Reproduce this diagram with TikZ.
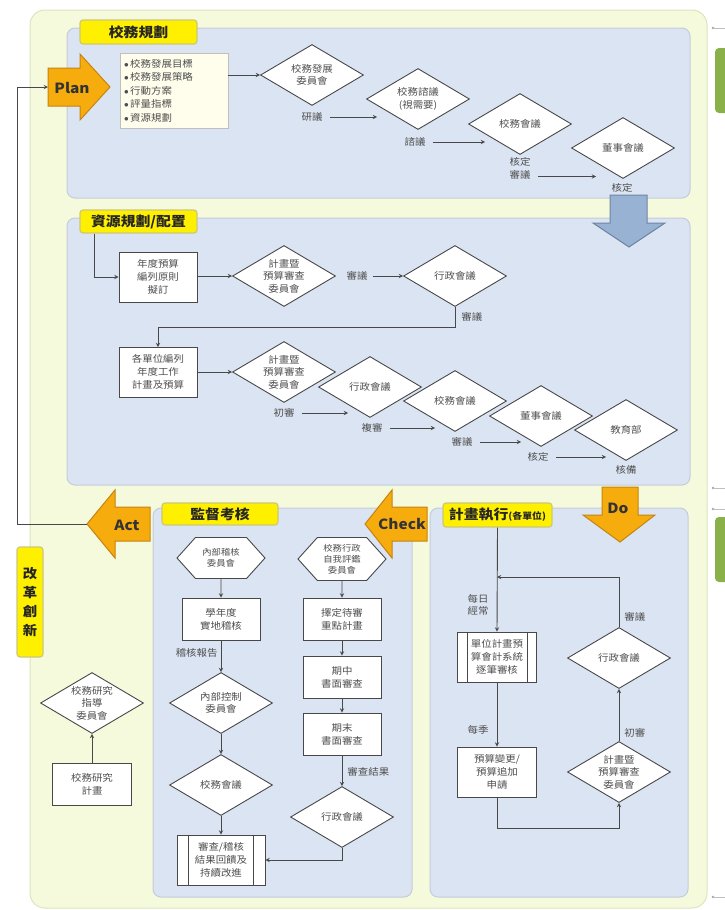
\documentclass[tikz,border=0pt]{standalone}
\usepackage{fontspec}
\setmainfont{Noto Sans CJK TC}[FakeStretch=1.1]
\usetikzlibrary{shapes, arrows, positioning, calc}

\definecolor{outerfill}{RGB}{246,250,220}
\definecolor{outerline}{RGB}{218,230,190}
\definecolor{panelfill}{RGB}{219,228,242}
\definecolor{panelline}{RGB}{196,204,218}
\definecolor{ttlfill}{RGB}{255,240,0}
\definecolor{ttlline}{RGB}{205,200,120}
\definecolor{orangefill}{RGB}{246,172,12}
\definecolor{orangeline}{RGB}{196,132,20}
\definecolor{bluefill}{RGB}{152,178,212}
\definecolor{blueline}{RGB}{112,132,162}
\definecolor{listfill}{RGB}{255,253,236}
\definecolor{linegray}{RGB}{72,72,72}
\definecolor{textgray}{RGB}{78,78,78}
\definecolor{sidegreen}{RGB}{138,176,74}

\begin{document}
\begin{tikzpicture}[x=1pt, y=-1pt, line width=0.9pt,
	arr/.style={draw=linegray, -stealth},
	dia/.style={diamond, draw=linegray, fill=white, aspect=1.7, inner sep=0pt, minimum width=103, minimum height=61, align=center, text=textgray, font=\fontsize{9.5}{12.5}\selectfont},
	box/.style={rectangle, draw=linegray, fill=white, inner sep=1pt, minimum width=78, minimum height=42, align=center, text=textgray, font=\fontsize{9.5}{13}\selectfont},
	hexa/.style={signal, signal to=east and west, signal pointer angle=96, draw=linegray, fill=white, minimum width=88, minimum height=41, inner sep=0pt, align=center, text=textgray, font=\fontsize{8.5}{11}\selectfont},
	lab/.style={text=textgray, inner sep=1pt, align=center, font=\fontsize{9.5}{12.5}\selectfont},
	ttl/.style={rectangle, rounded corners=3, draw=ttlline, fill=ttlfill, line width=1.2pt, text=black!85, font=\fontsize{13.5}{14}\bfseries\selectfont},
	panel/.style={draw=panelline, fill=panelfill, rounded corners=8, line width=1pt},
	bigarr/.style={draw=orangeline, fill=orangefill, line width=1pt},
	bigtext/.style={text=black!80, inner sep=0pt, font=\fontsize{14}{14}\bfseries\selectfont}]
	\useasboundingbox (0,0) rectangle (725,910);
	\clip (0,0) rectangle (725,910);
	\fill[white] (0,0) rectangle (725,910);
	
	\draw[draw=outerline, fill=outerfill, rounded corners=15, line width=1pt] (30,10) rectangle (707,908); % 外框
	
	% 右側
	\foreach \y in {28,488,509,897} {
		\fill[gray!70] (713,\y) circle (1.3);
		\draw[gray!50, line width=0.5pt] (713,\y) -- (725,\y);
	}
	\fill[sidegreen, rounded corners=4] (715,48) rectangle (735,113);
	\fill[sidegreen, rounded corners=4] (715,517) rectangle (735,582);
	
	\draw[panel] (67,28) rectangle (690,198);
	\draw[panel] (67,218) rectangle (690,485);
	\draw[panel] (153,508) rectangle (412,897);
	\draw[panel] (430,508) rectangle (688,897);
	
	% PDCA 箭頭
	\draw[bigarr] (48,68) -- (80,68) -- (80,54) -- (110,87) -- (80,120) -- (80,106) -- (48,106) -- cycle;
	\node[bigtext] (plan) at (72,88) {Plan};
	\coordinate (planin) at (48,87);
	\draw[bigarr] (150,507) -- (115,507) -- (115,490) -- (87,524) -- (115,558) -- (115,541) -- (150,541) -- cycle;
	\node[bigtext] (act) at (127,525) {Act};
	\coordinate (acttip) at (87,524);
	\draw[bigarr] (427,507) -- (392,507) -- (392,490) -- (365,524) -- (392,558) -- (392,541) -- (427,541) -- cycle;
	\node[bigtext] (check) at (402,524) {Check};
	\draw[bigarr] (602,487) -- (638,487) -- (638,515) -- (655,515) -- (620,542) -- (583,515) -- (602,515) -- cycle;
	\node[bigtext] (do) at (618,508) {Do};
	\draw[draw=blueline, fill=bluefill, line width=1pt] (610,195) -- (647,195) -- (647,223) -- (665,223) -- (629,247) -- (593,223) -- (610,223) -- cycle;
	
	\coordinate (loop) at (17,524);
	\draw[arr] (acttip) -- (loop) |- (planin);
	
	% 校務規劃
	\node[ttl, minimum width=117, minimum height=24] (t1) at (138.5,32) {校務規劃};
	\node[rectangle, draw=black!25, fill=listfill, text width=100, minimum height=75, inner sep=4, align=left, text=textgray, font=\fontsize{9.5}{13.5}\selectfont] (goals) at (174,90.5) {$\bullet$\,校務發展目標\\$\bullet$\,校務發展策略\\$\bullet$\,行動方案\\$\bullet$\,評量指標\\$\bullet$\,資源規劃};
	\node[dia] (d1) at (312,75) {校務發展\\委員會};
	\node[dia] (d2) at (418,99) {校務諮議\\(視需要)};
	\node[dia] (d3) at (520,124) {校務會議};
	\node[dia] (d4) at (623,148) {董事會議};
	\draw[arr] (goals.east |- d1) -- (d1.west);
	\node[lab] (l1) at (312,117) {研議};
	\draw[arr] ([xshift=6]l1.east) -- ($(l1 -| d2.west)+(11,0)$);
	\node[lab] (l2) at (415,142) {諮議};
	\draw[arr] ([xshift=6]l2.east) -- ($(l2 -| d3.west)+(17,0)$);
	\node[lab] (l3) at (520,168.5) {核定\\審議};
	\draw[arr] ($(l3.east)+(6,8)$) -- ($(l3.east -| d4.west)+(25,8)$);
	\node[lab] (l4) at (622,188) {核定};
	
	% 資源規劃/配置
	\node[ttl, minimum width=117, minimum height=23] (t2) at (138.5,221.5) {資源規劃/配置};
	\node[box, minimum height=50] (b1) at (158,277) {年度預算\\編列原則\\擬訂};
	\node[dia] (d5) at (284,276) {計畫暨\\預算審查\\委員會};
	\node[dia] (d6) at (455,276) {行政會議};
	\draw[arr] ([xshift=15]t2.south west) |- (b1.west);
	\draw[arr] (b1.east |- d5) -- (d5.west);
	\node[lab] (l5) at (357,276) {審議};
	\draw[arr] ([xshift=4]l5.east) -- (d6.west);
	\draw[arr] (d6.south) -- ++(0,20) -| (b1.south |- 0,347);
	\node[lab, anchor=west] (l6) at (460,317) {審議};
	\node[box, minimum height=50] (b2) at (158,372) {各單位編列\\年度工作\\計畫及預算};
	\node[dia] (d7) at (284,372) {計畫暨\\預算審查\\委員會};
	\node[dia] (d8) at (370,387) {行政會議};
	\node[dia] (d9) at (455,401) {校務會議};
	\node[dia] (d10) at (541,416) {董事會議};
	\node[dia] (d11) at (626,430) {教育部};
	\draw[arr] (b2.east) -- (d7.west);
	\node[lab] (l7) at (284,413) {初審};
	\draw[arr] ([xshift=6]l7.east) -- ($(l7 -| d8.west)+(30,0)$);
	\node[lab] (l8) at (372,428) {複審};
	\draw[arr] ([xshift=6]l8.east) -- ($(l8 -| d9.west)+(32,0)$);
	\node[lab] (l9) at (462,442) {審議};
	\draw[arr] ([xshift=6]l9.east) -- ($(l9 -| d10.west)+(32,0)$);
	\node[lab] (l10) at (538,457) {核定};
	\draw[arr] ([xshift=6]l10.east) -- ($(l10 -| d11.west)+(32,0)$);
	\node[lab] (l11) at (626,470) {核備};
	
	% 監督考核
	\node[ttl, minimum width=116, minimum height=22] (t3) at (220,514) {監督考核};
	\node[ttl, minimum width=26, minimum height=110, inner sep=2, align=center, font=\fontsize{13}{19}\bfseries\selectfont] (reform) at (30,602) {改\\革\\創\\新};
	\node[hexa] (h1) at (221,558) {內部稽核\\委員會};
	\node[box] (m1) at (221,619) {學年度\\實地稽核};
	\node[dia] (m2) at (221,703) {內部控制\\委員會};
	\node[dia] (m3) at (221,785) {校務會議};
	\node[box, minimum width=88, minimum height=50] (p1) at (221,860) {審查/稽核\\結果回饋及\\持續改進};
	\draw[arr] (h1) -- (m1);
	\draw[arr] (m1) -- (m2);
	\node[lab, anchor=east] (l12) at (219,653) {稽核報告};
	\draw[arr] (m2) -- (m3);
	\draw[arr] (m3) -- (p1);
	\node[hexa, minimum height=43] (h2) at (342,559) {校務行政\\自我評鑑\\委員會};
	\node[box] (c1) at (342,619) {擇定待審\\重點計畫};
	\node[box] (c2) at (342,677) {期中\\書面審查};
	\node[box] (c3) at (342,734) {期末\\書面審查};
	\node[dia] (c4) at (342,817) {行政會議};
	\draw[arr] (h2) -- (c1);
	\draw[arr] (c1) -- (c2);
	\draw[arr] (c2) -- (c3);
	\draw[arr] (c3) -- (c4);
	\node[lab, anchor=west] (l13) at (346,772) {審查結果};
	\draw[arr] (c4.south) |- (p1.east);
	\foreach \n in {p1} {
		\draw[linegray] ([xshift=12]\n.north west) -- ([xshift=12]\n.south west);
		\draw[linegray] ([xshift=-12]\n.north east) -- ([xshift=-12]\n.south east);
	}
	
	% 改革創新
	\node[dia] (rd) at (92,703) {校務研究\\指導\\委員會};
	\node[box, minimum width=79] (r1) at (92,784) {校務研究\\計畫};
	\draw[arr] (r1) -- (rd);
	
	% 計畫執行
	\node[ttl, minimum width=109, minimum height=24] (t4) at (497.5,515) {計畫執行{\fontsize{9}{10}\selectfont(各單位)}};
	\node[box, minimum width=79, minimum height=50] (e1) at (497,657) {單位計畫預\\算會計系統\\逐筆審核};
	\node[box, minimum width=79, minimum height=50] (e2) at (497,772) {預算變更/\\預算追加\\申請};
	\node[dia] (e3) at (619,772) {計畫暨\\預算審查\\委員會};
	\node[dia] (e4) at (619,658) {行政會議};
	\coordinate (join) at (497,577);
	\draw[arr] (t4.south) -- (e1.north);
	\node[lab, anchor=east] (l14) at (490,605) {每日\\經常};
	\draw[arr] (e1) -- (e2);
	\node[lab, anchor=east] (l15) at (490,730) {每季};
	\draw[arr] (e2.south) -- ++(0,31) -| (e3.south);
	\draw[arr] (e3) -- (e4);
	\node[lab, anchor=west] (l16) at (623,733) {初審};
	\draw[arr] (e4.north) |- (join);
	\node[lab, anchor=west] (l17) at (623,617) {審議};
	\foreach \n in {e1} {
		\draw[linegray] ([xshift=10]\n.north west) -- ([xshift=10]\n.south west);
		\draw[linegray] ([xshift=-10]\n.north east) -- ([xshift=-10]\n.south east);
	}
\end{tikzpicture}
\end{document}
